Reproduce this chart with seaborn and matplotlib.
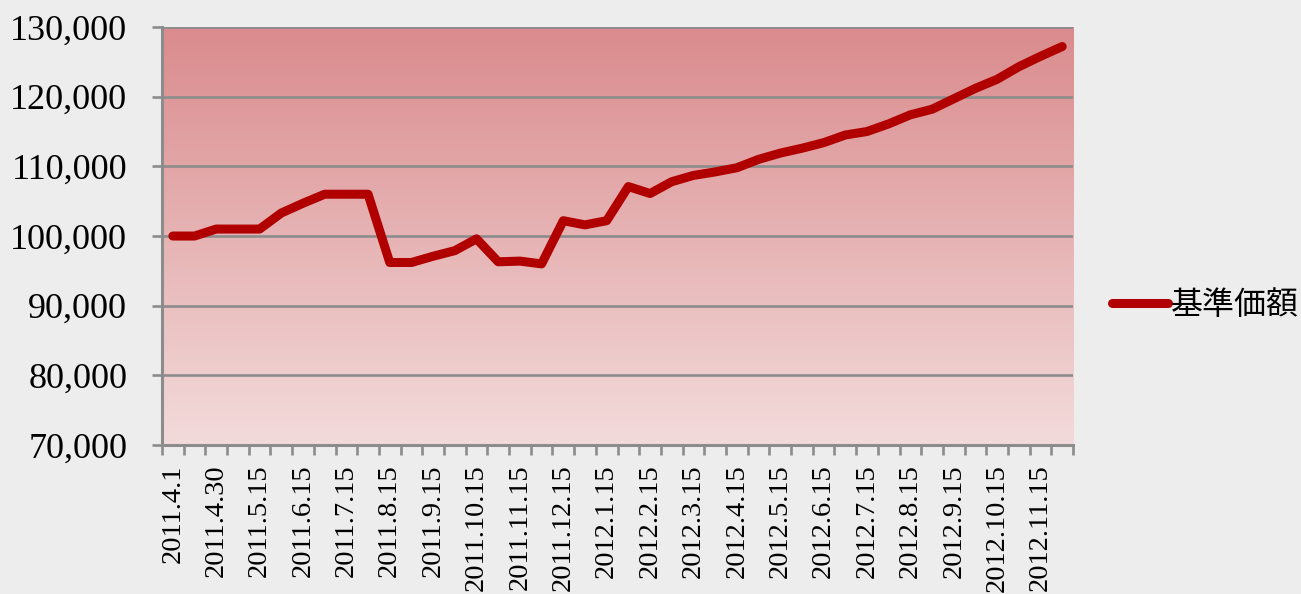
import numpy as np
import pandas as pd
import matplotlib
matplotlib.use("Agg")
import matplotlib.pyplot as plt
from matplotlib.colors import LinearSegmentedColormap
from matplotlib.ticker import FuncFormatter
import seaborn as sns

# 基準価額の推移（半月ごと）
dates = [
    "2011.4.1", "2011.4.15", "2011.4.30", "2011.5.6", "2011.5.15", "2011.5.31",
    "2011.6.15", "2011.6.30", "2011.7.15", "2011.7.31", "2011.8.15", "2011.8.31",
    "2011.9.15", "2011.9.30", "2011.10.15", "2011.10.31", "2011.11.15", "2011.11.30",
    "2011.12.15", "2011.12.31", "2012.1.15", "2012.1.31", "2012.2.15", "2012.2.29",
    "2012.3.15", "2012.3.31", "2012.4.15", "2012.4.30", "2012.5.15", "2012.5.31",
    "2012.6.15", "2012.6.30", "2012.7.15", "2012.7.31", "2012.8.15", "2012.8.31",
    "2012.9.15", "2012.9.30", "2012.10.15", "2012.10.31", "2012.11.15", "2012.11.30",
]
nav = [
    100000, 100000, 101000, 101000, 101000, 103300,
    104700, 106000, 106000, 106000, 96200, 96200,
    97100, 97900, 99600, 96300, 96400, 96000,
    102200, 101600, 102200, 107100, 106100, 107800,
    108700, 109200, 109800, 111000, 111900, 112600,
    113400, 114500, 115000, 116100, 117400, 118200,
    119700, 121200, 122500, 124300, 125800, 127200,
]
y_ticks = [70000, 80000, 90000, 100000, 110000, 120000, 130000]
series_name = "基準価額"

df = pd.DataFrame({"date": dates, "nav": nav})

sns.set_style("white")
plt.rcParams["font.family"] = ["Liberation Serif", "Noto Sans CJK JP"]
plt.rcParams["text.color"] = "black"
plt.rcParams["xtick.labelcolor"] = "black"
plt.rcParams["ytick.labelcolor"] = "black"

fig = plt.figure(figsize=(13.01, 5.94), dpi=100, facecolor="#ededed")
ax = fig.add_axes([0.1245, 0.2508, 0.7003, 0.7037])
ax.set_facecolor("none")

# グラデーション背景
grad = LinearSegmentedColormap.from_list("bg", ["#f3dbdb", "#da8b8d"])
ax.imshow(np.linspace(0, 1, 256).reshape(-1, 1), cmap=grad, origin="lower",
          aspect="auto", extent=[0, 1, 0, 1], transform=ax.transAxes, zorder=0)

sns.lineplot(data=df, x="date", y="nav", ax=ax, color="#b00000", linewidth=6.5,
             solid_capstyle="round", solid_joinstyle="round", label=series_name,
             sort=False, zorder=3)

ax.set_xlim(-0.5, len(dates) - 0.5)
ax.set_ylim(70000, 130000)
ax.set_yticks(y_ticks)
ax.yaxis.set_major_formatter(FuncFormatter(lambda v, p: f"{int(v):,}"))
ax.grid(axis="y", color="#8c8c8c", linewidth=1.9, zorder=1)
ax.set_axisbelow(False)

ax.set_xticks(range(0, len(dates), 2))
ax.set_xticklabels(dates[::2], rotation=90, va="top", ha="center")
ax.set_xticks(np.arange(-0.5, len(dates), 1), minor=True)
ax.tick_params(axis="x", which="major", length=0, pad=14, labelsize=20.5,
               labelcolor="black")
ax.tick_params(axis="x", which="minor", length=7, width=1.9, color="#8c8c8c",
               direction="out", bottom=True)
ax.tick_params(axis="y", length=7, width=1.9, color="#8c8c8c", direction="out",
               left=True, pad=18, labelsize=26, labelcolor="black")
ax.set_xlabel("")
ax.set_ylabel("")

for s in ["top", "right"]:
    ax.spines[s].set_visible(False)
for s in ["left", "bottom"]:
    ax.spines[s].set_color("#8c8c8c")
    ax.spines[s].set_linewidth(2.2)
    ax.spines[s].set_zorder(4)

leg = ax.legend(loc="center left", bbox_to_anchor=(1.043, 0.335), frameon=False,
                borderpad=0, borderaxespad=0, handlelength=1.75, handletextpad=0.1,
                prop={"family": ["Noto Sans CJK JP"], "size": 23})
for t in leg.get_texts():
    t.set_color("black")

fig.savefig("out.png", dpi=100, facecolor=fig.get_facecolor())
